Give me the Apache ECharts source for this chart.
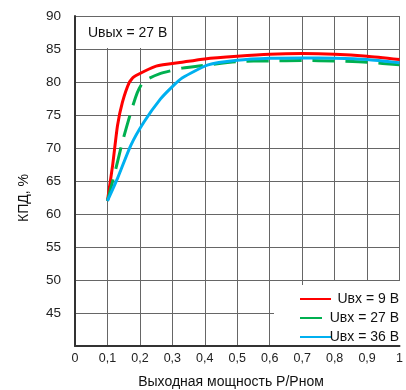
<!DOCTYPE html>
<html><head><meta charset="utf-8">
<script src="https://cdn.jsdelivr.net/npm/echarts@6/dist/echarts.min.js"></script>
<style>html,body{margin:0;padding:0;background:#fff}#c{width:406px;height:390px}</style>
</head><body><div id="c"></div>
<script>
var seriesNames = ['Uвх = 9 В', 'Uвх = 27 В', 'Uвх = 36 В'];
var xTicks = [0, 0.1, 0.2, 0.3, 0.4, 0.5, 0.6, 0.7, 0.8, 0.9, 1];
var yTicks = [45, 50, 55, 60, 65, 70, 75, 80, 85, 90];
var u9 = [[0.1,62],[0.116,67.4],[0.131,73.4],[0.146,76.9],[0.167,79.9],[0.182,80.8],[0.25,82.4],[0.33,83.0],[0.4,83.5],[0.5,83.9],[0.6,84.2],[0.7,84.3],[0.8,84.2],[0.9,83.9],[1.0,83.4]];
var u27 = [[0.1,62],[0.121,65.9],[0.146,70.9],[0.172,75.4],[0.192,78.4],[0.212,80.1],[0.258,81.2],[0.33,82.1],[0.41,82.6],[0.5,83.1],[0.6,83.2],[0.7,83.25],[0.8,83.2],[0.9,83.0],[1.0,82.6]];
var u36 = [[0.1,62],[0.131,65.4],[0.172,70.4],[0.212,73.9],[0.263,77.4],[0.3,79.3],[0.33,80.6],[0.41,82.6],[0.5,83.3],[0.6,83.6],[0.7,83.65],[0.8,83.6],[0.9,83.4],[1.0,82.9]];
var colors = ['#ff0000', '#00b050', '#00b0f0'];
var font = 'Liberation Sans, Arial, sans-serif';

var chart = echarts.init(document.getElementById('c'));
function mk(name, data, color, type) {
  return {name: name, type: 'line', data: data, symbol: 'none', smooth: 0.2,
    lineStyle: {color: color, width: 3, type: type}, itemStyle: {color: color}, z: 5};
}
chart.setOption({
  animation: false,
  grid: {left: 75, top: 16, right: 1, bottom: 44, containLabel: false},
  xAxis: {type: 'value', min: 0, max: 1, interval: 0.1,
    axisLine: {show: true, lineStyle: {color: '#333', width: 2}},
    axisTick: {show: false},
    splitLine: {show: true, lineStyle: {color: '#666', width: 1}},
    axisLabel: {color: '#222', fontFamily: font, fontSize: 12.5, margin: 6,
      formatter: function (v) { var t = xTicks.filter(function (a) { return Math.abs(a - v) < 1e-6; })[0];
        if (t === undefined) return ''; return (t === 0 || t === 1) ? String(t) : t.toFixed(1).replace('.', ','); }}
  },
  yAxis: {type: 'value', min: 40, max: 90, interval: 5,
    axisLine: {show: true, lineStyle: {color: '#333', width: 2}},
    axisTick: {show: false},
    splitLine: {show: true, lineStyle: {color: '#666', width: 1}},
    axisLabel: {color: '#222', fontFamily: font, fontSize: 13.5, margin: 14,
      formatter: function (v) { return yTicks.indexOf(v) >= 0 ? String(v) : ''; }}
  },
  legend: {orient: 'vertical', left: 294, top: 287, itemWidth: 31, itemHeight: 14, itemGap: 5,
    data: seriesNames, selectedMode: false,
    itemStyle: {opacity: 0},
    formatter: function (n) { return '{a|' + n + '}'; },
    textStyle: {fontFamily: font, fontSize: 14, color: '#111',
      rich: {a: {fontFamily: font, fontSize: 14, color: '#111', width: 63, align: 'right'}}}},
  graphic: [
    {type: 'rect', shape: {x: 76, y: 17, width: 96, height: 31}, style: {fill: '#fff'}, z: 3},
    {type: 'text', x: 88, y: 33, style: {text: 'Uвых = 27 В', font: '14px ' + font, fill: '#111', verticalAlign: 'middle'}, z: 4},
    {type: 'rect', shape: {x: 307, y: 281, width: 99, height: 64}, style: {fill: '#fff'}, z: 3},
    {type: 'rect', shape: {x: 274, y: 285, width: 40, height: 60}, style: {fill: '#fff'}, z: 3},
    {type: 'text', x: 24, y: 198, rotation: Math.PI / 2, style: {text: 'КПД, %', font: '14px ' + font, fill: '#111', align: 'center', verticalAlign: 'middle'}},
    {type: 'text', x: 231, y: 382, style: {text: 'Выходная мощность Р/Рном', font: '14px ' + font, fill: '#111', align: 'center', verticalAlign: 'middle'}}
  ],
  series: [mk(seriesNames[0], u9, colors[0], 'solid'), mk(seriesNames[1], u27, colors[1], [22, 11]), mk(seriesNames[2], u36, colors[2], 'solid')]
});
</script></body></html>
